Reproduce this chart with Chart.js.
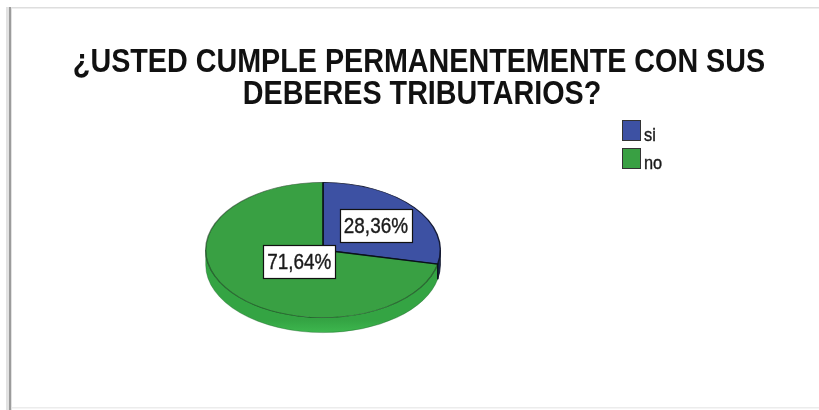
<!DOCTYPE html>
<html>
<head>
<meta charset="utf-8">
<script src="https://cdn.jsdelivr.net/npm/chart.js@4.4.0/dist/chart.umd.min.js"></script>
<style>
  html, body { margin: 0; padding: 0; background: #fff; }
  canvas { display: block; }
</style>
</head>
<body>
<canvas id="pieChart" width="819" height="410"></canvas>
<script>
// Survey answers
const titleLines = ["¿USTED CUMPLE PERMANENTEMENTE CON SUS", "DEBERES TRIBUTARIOS?"];
const categories = ["si", "no"];
const percentages = [28.36, 71.64];

const sliceColors = ["#3d51a3", "#39a043"];
const sliceBorders = ["rgba(15,20,45,0.95)", "rgba(20,55,25,0.6)"];
const sideColors = ["#1f2c64", "#34a443"];
const sideBottoms = ["#2c3d86", "#3db74e"];
const labelRadius = [0.58, 0.26];

const FONT = '"Liberation Sans", Arial, sans-serif';
const SQUEEZE = 0.86;    // narrow glyphs
const TILT = 68 / 118;   // vertical squash of the pie face
const DEPTH = 15;        // thickness of the pie

function squeezedText(ctx, text, x, y, align, squeeze, weight) {
  ctx.save();
  ctx.translate(x, y);
  ctx.scale(squeeze || SQUEEZE, 1);
  ctx.textAlign = align;
  ctx.textBaseline = "alphabetic";
  ctx.fillText(text, 0, 0);
  if (weight) {
    ctx.strokeStyle = ctx.fillStyle;
    ctx.lineWidth = weight;
    ctx.strokeText(text, 0, 0);
  }
  ctx.restore();
}

function formatPct(v) {
  return v.toFixed(2).replace(".", ",") + "%";
}

// white sheet with the thin border and the title
const framePlugin = {
  id: "frame",
  beforeDraw(chart) {
    const ctx = chart.ctx;
    ctx.save();
    ctx.fillStyle = "#fff";
    ctx.fillRect(0, 0, chart.width, chart.height);
    ctx.fillStyle = "#dedede";
    ctx.fillRect(9, 7, chart.width - 9, 1.5);
    ctx.fillStyle = "#ececec";
    ctx.fillRect(9, 407, chart.width - 9, 1.5);
    ctx.fillStyle = "#e2e2e2";
    ctx.fillRect(6, 7, 6, chart.height - 7);
    ctx.fillStyle = "#9c9c9c";
    ctx.fillRect(9, 7, 2, chart.height - 7);

    ctx.fillStyle = "#111";
    ctx.font = `bold 33px ${FONT}`;
    squeezedText(ctx, titleLines[0], 419, 72, "center", 0.87);
    squeezedText(ctx, titleLines[1], 422, 104, "center", 0.87);
    ctx.restore();
  }
};

// side wall of the pie, then squash the face drawn by Chart.js
const tiltPlugin = {
  id: "tilt",
  beforeDatasetsDraw(chart) {
    const ctx = chart.ctx;
    const meta = chart.getDatasetMeta(0);
    if (!meta.data.length) return;
    ctx.save();
    meta.data.forEach((arc, i) => {
      const { x, y, startAngle, endAngle, outerRadius } =
        arc.getProps(["x", "y", "startAngle", "endAngle", "outerRadius"]);
      const R = outerRadius, r = outerRadius * TILT;
      [[0, Math.PI], [2 * Math.PI, 3 * Math.PI]].forEach(([lo, hi]) => {
        const a = Math.max(startAngle, lo), b = Math.min(endAngle, hi);
        if (b <= a) return;
        const grad = ctx.createLinearGradient(0, y + r * 0.6, 0, y + r + DEPTH);
        grad.addColorStop(0, sideColors[i]);
        grad.addColorStop(0.7, sideColors[i]);
        grad.addColorStop(1, sideBottoms[i]);
        ctx.beginPath();
        ctx.ellipse(x, y, R, r, 0, a, b);
        ctx.ellipse(x, y + DEPTH, R, r, 0, b, a, true);
        ctx.closePath();
        ctx.fillStyle = grad;
        ctx.fill();
        ctx.strokeStyle = i === 0 ? "rgba(10,15,35,0.9)" : "rgba(30,90,40,0.35)";
        ctx.lineWidth = 1;
        ctx.stroke();
      });
    });
    ctx.restore();

    const { x, y } = meta.data[0].getProps(["x", "y"]);
    ctx.save();
    ctx.translate(x, y);
    ctx.scale(1, TILT);
    ctx.translate(-x, -y);
  },
  afterDatasetsDraw(chart) {
    const ctx = chart.ctx;
    const meta = chart.getDatasetMeta(0);
    if (!meta.data.length) return;
    ctx.restore();

    // dark seams between the slices
    ctx.save();
    ctx.strokeStyle = "rgba(10,15,25,0.95)";
    ctx.lineWidth = 1.4;
    meta.data.forEach((arc) => {
      const { x, y, startAngle, outerRadius } =
        arc.getProps(["x", "y", "startAngle", "outerRadius"]);
      const ex = x + Math.cos(startAngle) * outerRadius;
      const ey = y + Math.sin(startAngle) * outerRadius * TILT;
      ctx.beginPath();
      ctx.moveTo(x, y);
      ctx.lineTo(ex, ey);
      if (Math.sin(startAngle) > -0.2) ctx.lineTo(ex, ey + DEPTH);
      ctx.stroke();
    });
    ctx.restore();

    // value boxes
    ctx.save();
    ctx.font = `22px ${FONT}`;
    meta.data.forEach((arc, i) => {
      const { x, y, startAngle, endAngle, outerRadius } =
        arc.getProps(["x", "y", "startAngle", "endAngle", "outerRadius"]);
      const mid = (startAngle + endAngle) / 2;
      const f = labelRadius[i];
      const lx = x + Math.cos(mid) * outerRadius * f;
      const ly = y + Math.sin(mid) * outerRadius * TILT * f;
      const text = formatPct(percentages[i]);
      const w = Math.round(ctx.measureText(text).width * SQUEEZE + 8);
      const h = 33;
      const bx = Math.round(lx - w / 2) + 0.5, by = Math.round(ly - h / 2) + 0.5;
      ctx.fillStyle = "#fff";
      ctx.fillRect(bx, by, w, h);
      ctx.strokeStyle = "#111";
      ctx.lineWidth = 1.2;
      ctx.strokeRect(bx, by, w, h);
      ctx.fillStyle = "#1a1a1a";
      squeezedText(ctx, text, lx, ly + 8, "center", SQUEEZE, 0.4);
    });
    ctx.restore();
  }
};

// legend in the upper right
const legendPlugin = {
  id: "sideLegend",
  afterDraw(chart) {
    const ctx = chart.ctx;
    ctx.save();
    ctx.font = `19px ${FONT}`;
    chart.data.labels.forEach((label, i) => {
      const top = 120 + i * 28;
      ctx.fillStyle = sliceColors[i];
      ctx.fillRect(622, top, 19, 21);
      ctx.strokeStyle = "#333";
      ctx.lineWidth = 1;
      ctx.strokeRect(622.5, top + 0.5, 18, 20);
      ctx.fillStyle = "#1a1a1a";
      squeezedText(ctx, label, 644, top + 21, "left", SQUEEZE, 0.4);
    });
    ctx.restore();
  }
};

new Chart(document.getElementById("pieChart"), {
  type: "pie",
  data: {
    labels: categories,
    datasets: [{
      data: percentages,
      backgroundColor: sliceColors,
      borderColor: sliceBorders,
      borderWidth: 1.4,
      clip: false
    }]
  },
  options: {
    responsive: false,
    animation: false,
    events: [],
    layout: { padding: { left: 205, right: 378, top: 132, bottom: 42 } },
    plugins: {
      legend: { display: false },
      title: { display: false },
      tooltip: { enabled: false }
    }
  },
  plugins: [framePlugin, tiltPlugin, legendPlugin]
});
</script>
</body>
</html>
